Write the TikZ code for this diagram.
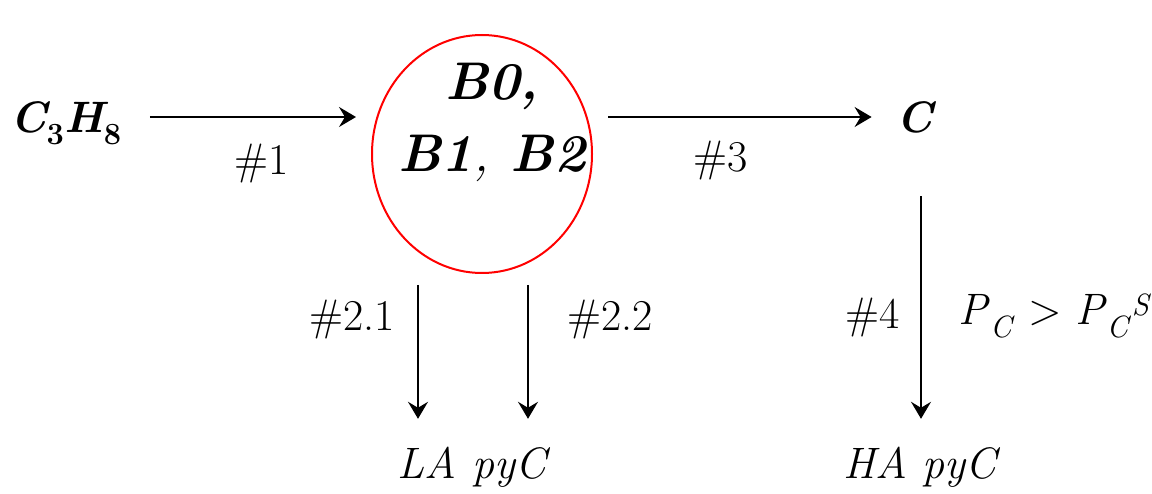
\documentclass[tikz,border=0pt]{standalone}
\usepackage{tikz}
\usetikzlibrary{positioning, arrows.meta, shapes.geometric}
\tikzset{
  flow/.style={-{Stealth[length=17pt, width=20pt, inset=6pt]}, line width=2pt, black},
  lbl/.style={font=\fontsize{44}{50}\selectfont, inner sep=0pt},
  prod/.style={font=\fontsize{44}{50}\selectfont\itshape, inner sep=0pt, text height=31pt, text depth=9pt},
  species/.style={font=\fontsize{44}{50}\selectfont\bfseries\itshape, inner sep=0pt, text height=32pt, text depth=0pt},
  pool/.style={ellipse, draw=red, line width=2pt, minimum width=220pt, minimum height=238pt, inner sep=0pt},
  pooltxt/.style={font=\fontsize{53}{72}\selectfont\bfseries\itshape, align=center, inner sep=0pt},
}

\begin{document}
\begin{tikzpicture}[x=1pt, y=-1pt]
  \useasboundingbox (0,0) rectangle (1152,494);
  % species and the catalyst pool
  \node[species] (c3h8) at (66,117) {C\textsubscript{\upshape 3}H\textsubscript{\upshape 8}};
  \node[pool] (bs) at (482,154) {};
  \node[pooltxt] (bstxt) at (492,122) {B0,\\B1{\mdseries,} B2};
  \node[species] (cc) at (915,117) {C};
  \node[prod] (la) at (472,467) {LA pyC};
  \node[prod] (ha) at (920,467) {HA pyC};
  % reaction steps
  \draw[flow, shorten <=28pt, shorten >=15pt] (c3h8.east) -- (c3h8.east -| bs.west);
  \draw[flow, shorten <=15pt, shorten >=25pt] (bs.east |- cc.west) -- (cc.west);
  \draw[flow, shorten <=63pt, shorten >=28pt] ([xshift=6pt]cc.south) -- ([xshift=6pt]cc.south |- ha.north);
  \coordinate (d1) at (418,285);
  \coordinate (d2) at (528,285);
  \foreach \d in {d1,d2}
    \draw[flow, shorten >=28pt] (\d) -- (\d |- la.north);
  % step labels
  \node[lbl] (s1) at (262,164) {\#1};
  \node[lbl] (s3) at (721,161) {\#3};
  \node[lbl] (s21) at (352,320) {\#2.1};
  \node[lbl] (s22) at (610,320) {\#2.2};
  \node[lbl] (s4) at (873,318) {\#4};
  \node[lbl] (cond) at (1055,316) {\textit{P}\textsubscript{\textit{C}} > \textit{P}\textsubscript{\textit{C}}\textsuperscript{\textit{S}}};
\end{tikzpicture}
\end{document}
